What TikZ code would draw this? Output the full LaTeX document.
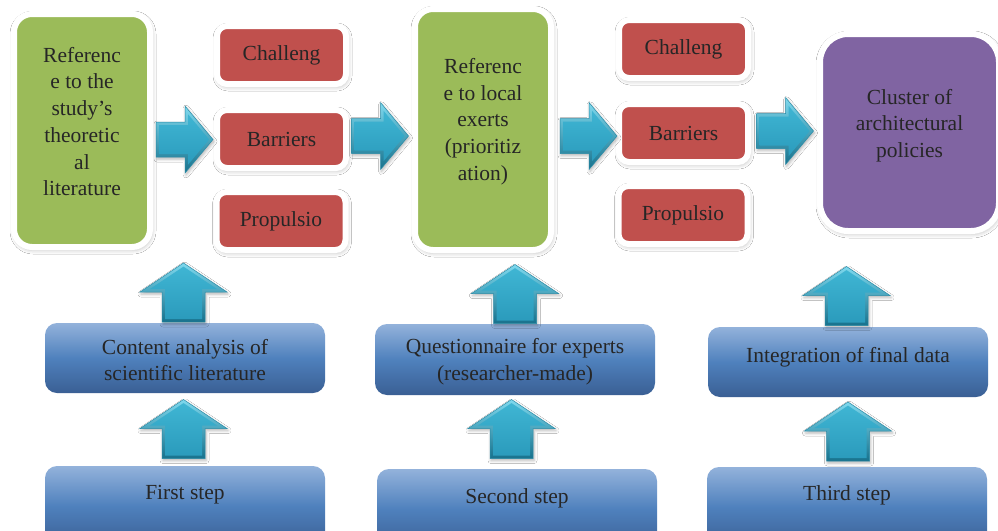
\documentclass[tikz,border=0pt]{standalone}
\usepackage{fontspec}
\setmainfont{Liberation Serif}
\usetikzlibrary{shadows.blur}

\definecolor{grn}{HTML}{9BBB59}
\definecolor{redc}{HTML}{C0504D}
\definecolor{purp}{HTML}{8064A2}
\definecolor{txtc}{HTML}{262626}
\definecolor{bluTop}{HTML}{93B2DB}
\definecolor{bluMid}{HTML}{4F81BD}
\definecolor{bluBot}{HTML}{3A5F94}
\definecolor{arrTop}{HTML}{7FD9EE}
\definecolor{arrBot}{HTML}{17718C}
\definecolor{faceTop}{HTML}{3FB5D3}
\definecolor{faceBot}{HTML}{2B9BBC}
\definecolor{arrEdge}{HTML}{2A8CA8}

\tikzset{
  txt/.style={font=\fontsize{21.5}{26.7}\selectfont, text=txtc, align=center, inner sep=0pt},
  whitebox/.style={rectangle, draw=white, line width=6pt, rounded corners=#1,
    blur shadow={shadow xshift=1pt, shadow yshift=-2pt, shadow blur radius=5pt, shadow opacity=35}},
  greenbox/.style={whitebox=18pt, fill=grn, minimum width=136pt},
  redbox/.style={whitebox=10pt, fill=redc, minimum width=129pt, minimum height=58pt,
    font=\fontsize{21.5}{26.7}\selectfont, text=txtc},
  purplebox/.style={whitebox=28pt, fill=purp, minimum width=179pt, minimum height=197pt},
  bluebox/.style={rectangle, rounded corners=12pt, minimum width=280pt,
    top color=bluTop, bottom color=bluBot, middle color=bluMid},
  arrowrim/.style={draw=arrEdge, line width=0.5pt, line join=miter,
    top color=arrTop, bottom color=arrBot,
    blur shadow={shadow xshift=1pt, shadow yshift=-2pt, shadow blur radius=3pt, shadow opacity=30}},
  arrowface/.style={top color=faceTop, bottom color=faceBot},
  % bevelled block arrow pointing right: length 57, head width 67, shaft 35
  pics/rarrow/.style={code={
    \path[arrowrim] (-28.5,-17.5) -- (0.5,-17.5) -- (0.5,-33.5) -- (28.5,0)
      -- (0.5,33.5) -- (0.5,17.5) -- (-28.5,17.5) -- cycle;
    \path[arrowface] (-25.5,-14.5) -- (3.5,-14.5) -- (3.5,-25.2) -- (24.6,0)
      -- (3.5,25.2) -- (3.5,14.5) -- (-25.5,14.5) -- cycle;}},
  % bevelled block arrow pointing up: length 59, head width 87, shaft 43
  pics/uarrow/.style={code={
    \path[arrowrim] (-21.5,29.5) -- (-21.5,-0.5) -- (-43.5,-0.5) -- (0,-29.5)
      -- (43.5,-0.5) -- (21.5,-0.5) -- (21.5,29.5) -- cycle;
    \path[arrowface] (-18.5,26.5) -- (-18.5,-3.5) -- (-33.6,-3.5) -- (0,-25.9)
      -- (33.6,-3.5) -- (18.5,-3.5) -- (18.5,26.5) -- cycle;}},
}

\begin{document}
\begin{tikzpicture}[x=1pt, y=-1pt]
  \useasboundingbox[fill=white] (0,0) rectangle (998,530);

  % first stage: literature
  \node[greenbox, minimum height=233pt] (g1) at (82,130.5) {};
  \node[txt] (g1t) at ([yshift=9pt]g1.center)
    {Referenc\\e to the\\study’s\\theoretic\\al\\literature};
  \node[redbox] (c1) at (281.5,55) {Challeng};
  \node[redbox] (b1) at (281.5,139) {Barriers};
  \node[redbox] (p1) at (281,221) {Propulsio};

  % second stage: local experts
  \node[greenbox, minimum height=241pt] (g2) at (483,129.5) {};
  \node[txt] (g2t) at ([yshift=8pt]g2.center)
    {Referenc\\e to local\\exerts\\(prioritiz\\ation)};
  \node[redbox] (c2) at (683.5,49) {Challeng};
  \node[redbox] (b2) at (683.5,133) {Barriers};
  \node[redbox] (p2) at (683,215) {Propulsio};

  % result
  \node[purplebox] (cl) at (909.5,132.5) {};
  \node[txt] (clt) at ([yshift=7pt]cl.center) {Cluster of\\architectural\\policies};

  % horizontal flow arrows
  \coordinate (r1) at (184.5,139.5);
  \coordinate (r2) at (380,136);
  \coordinate (r3) at (588.5,136);
  \coordinate (r4) at (785,131);
  \foreach \a in {r1,r2,r3,r4} \pic at (\a) {rarrow};

  % method boxes
  \node[bluebox, minimum height=70pt] (m1) at (185,358) {};
  \node[txt] (m1t) at ([yshift=-2pt]m1.center) {Content analysis of\\scientific literature};
  \node[bluebox, minimum height=71pt] (m2) at (515,359.5) {};
  \node[txt] (m2t) at ([yshift=-2pt]m2.center) {Questionnaire for experts\\(researcher-made)};
  \node[bluebox, minimum height=70pt] (m3) at (848,362) {};
  \node[txt] (m3t) at ([yshift=5pt]m3.center) {Integration of final data};

  % step boxes (running past the lower edge)
  \node[bluebox, minimum height=80pt] (s1) at (185,506) {};
  \node[txt] (s1t) at (185,495) {First step};
  \node[bluebox, minimum height=80pt] (s2) at (517,509) {};
  \node[txt] (s2t) at (517,498) {Second step};
  \node[bluebox, minimum height=80pt] (s3) at (847,507) {};
  \node[txt] (s3t) at (847,495) {Third step};

  % vertical arrows
  \coordinate (u1a) at (183.5,292.5);
  \coordinate (u1b) at (183.5,429);
  \coordinate (u2a) at (515,294);
  \coordinate (u2b) at (511.5,429);
  \coordinate (u3a) at (846.5,296);
  \coordinate (u3b) at (848,431.5);
  \foreach \a in {u1a,u1b,u2a,u2b,u3a,u3b} \pic at (\a) {uarrow};
\end{tikzpicture}
\end{document}
